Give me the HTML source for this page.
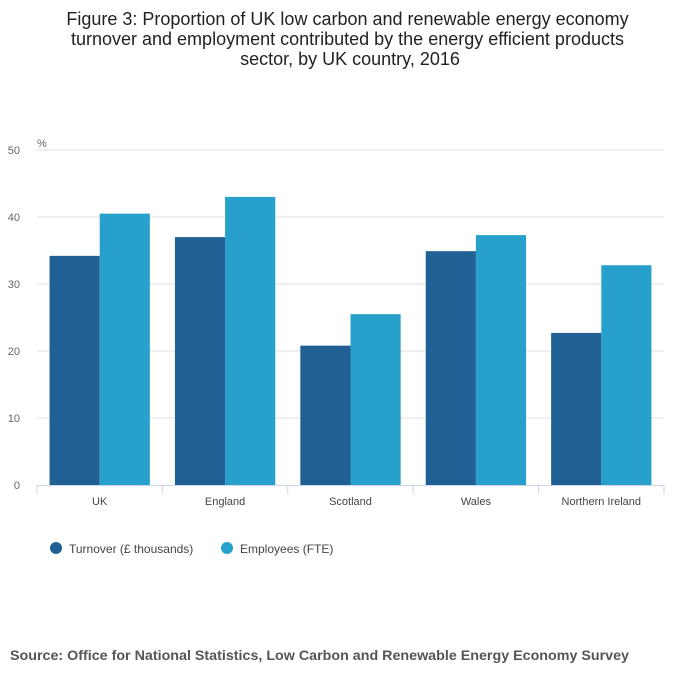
<!DOCTYPE html>
<html><head><meta charset="utf-8"><style>
body{margin:0;background:#fff;font-family:"Liberation Sans",sans-serif;}
</style></head><body>
<svg width="700" height="682" xmlns="http://www.w3.org/2000/svg" id="chart">
<text x="350" y="25" text-anchor="middle" font-size="18" fill="#222">
<tspan x="350" dy="0">Figure 3: Proportion of UK low carbon and renewable energy economy</tspan>
<tspan x="350" dy="20">turnover and employment contributed by the energy efficient products</tspan>
<tspan x="350" dy="20">sector, by UK country, 2016</tspan></text>
<text x="37" y="147" font-size="11" fill="#666">%</text>
<g id="grid"></g><g id="bars"></g><g id="xaxis"></g>
<g>
<circle cx="56" cy="548" r="6" fill="#206095"/>
<text x="69" y="553" font-size="12" fill="#444">Turnover (£ thousands)</text>
<circle cx="227" cy="548" r="6" fill="#27a0cc"/>
<text x="240" y="553" font-size="12" fill="#444">Employees (FTE)</text>
</g>
<text x="10" y="660" font-size="14" font-weight="bold" fill="#555" textLength="619" lengthAdjust="spacingAndGlyphs">Source: Office for National Statistics, Low Carbon and Renewable Energy Economy Survey</text>
</svg>
<script>
const categories=["UK","England","Scotland","Wales","Northern Ireland"];
const turnover=[34.2,37.0,20.8,34.9,22.7];
const employees=[40.5,43.0,25.5,37.3,32.8];
const yTicks=[0,10,20,30,40,50];
const NS="http://www.w3.org/2000/svg";
const x0=37,x1=664,yb=485,yt=150,ymax=50;
const y=v=>yb-(v/ymax)*(yb-yt);
const gw=(x1-x0)/categories.length;
function mk(t,a,p){const e=document.createElementNS(NS,t);for(const k in a)e.setAttribute(k,a[k]);p.appendChild(e);return e;}
const grid=document.getElementById('grid'),bars=document.getElementById('bars'),xa=document.getElementById('xaxis');
yTicks.forEach(t=>{
 if(t>0){const l=mk('line',{x1:x0,x2:x1,y1:y(t),y2:y(t),stroke:'#e2e2e2','stroke-width':1},grid);
 
 }
 const tx=mk('text',{x:20,y:y(t)+4,'text-anchor':'end','font-size':11,fill:'#666'},grid);tx.textContent=t;
 
 
});
const al=mk('line',{x1:x0,x2:x1,y1:yb+0.5,y2:yb+0.5,stroke:'#ccd6eb'},xa);


for(let i=0;i<=categories.length;i++){const tk=mk('line',{x1:x0+i*gw,x2:x0+i*gw,y1:yb,y2:yb+9,stroke:'#ccd6eb'},xa);
 
 }
const bw=gw*0.4,pad=gw*0.1;
categories.forEach((c,i)=>{
 const gx=x0+i*gw;
 const b1=mk('rect',{x:gx+pad,y:y(turnover[i]),width:bw,height:yb-y(turnover[i]),fill:'#206095'},bars);
 
 
 const b2=mk('rect',{x:gx+pad+bw,y:y(employees[i]),width:bw,height:yb-y(employees[i]),fill:'#27a0cc'},bars);
 
 
 const t=mk('text',{x:gx+gw/2,y:505,'text-anchor':'middle','font-size':11,fill:'#444'},xa);t.textContent=c;
 
 
});
</script>
</body></html>
